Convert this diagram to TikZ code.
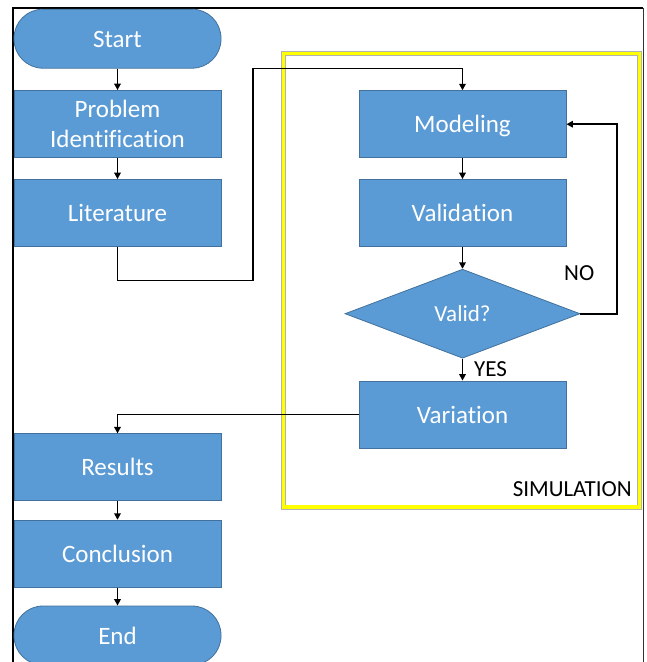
\documentclass[tikz,border=0pt]{standalone}
\usepackage{fontspec}
\setmainfont[Ligatures=CommonOff]{Carlito}
\usetikzlibrary{shapes.geometric,arrows.meta}
\definecolor{boxfill}{HTML}{5B9BD5}
\definecolor{boxline}{HTML}{41719C}
\definecolor{simyellow}{HTML}{FFFF00}
\tikzset{
  stepbox/.style={rectangle, fill=boxfill, draw=boxline, line width=0.8pt,
    minimum width=207pt, minimum height=67pt, inner sep=0pt, text=white,
    font=\fontsize{25}{30}\selectfont, align=center,
    text height=17pt, text depth=0pt},
  termbox/.style={stepbox, rounded corners=29pt, minimum height=59pt},
  decision/.style={diamond, fill=boxfill, draw=boxline, line width=0.8pt,
    minimum width=235pt, minimum height=89pt, inner sep=0pt, text=white,
    font=\fontsize{23}{27}\selectfont, text height=16pt, text depth=0pt},
  flow/.style={draw=black, line width=1.6pt, -{Triangle[length=6.5pt,width=6.5pt]}},
  tag/.style={font=\fontsize{23}{27}\selectfont, text=black, inner sep=0pt},
}
\begin{document}
\begin{tikzpicture}[x=1pt,y=-1pt]
\useasboundingbox (0,0) rectangle (646,662);
% outer frame
\draw[line width=1.8pt] (13,662) -- (13,8) -- (643,8);
\draw[line width=1pt, black!80] (643,8) -- (643,662);
% simulation region
\draw[line width=5pt, black!30] (283.5,53.5) rectangle (639.5,507);
\draw[line width=3.6pt, simyellow] (283.5,53.5) rectangle (639.5,507);

% main column
\node[termbox] (start) at (117.5,38.7) {Start};
\node[stepbox, text height=47pt] (prob) at (117.5,124) {Problem\\Identification};
\node[stepbox] (lit) at (117.5,213) {Literature};
\node[stepbox] (res) at (117.5,467.3) {Results};
\node[stepbox] (conc) at (117.5,553.7) {Conclusion};
\node[termbox] (end) at (117.5,635.5) {End};

% simulation column
\node[stepbox] (mod) at (462.5,124.2) {Modeling};
\node[stepbox] (vali) at (462.5,213) {Validation};
\node[decision] (ok) at (462.5,313.7) {Valid?};
\node[stepbox] (var) at (462.5,414.5) {Variation};

% labels
\node[tag, anchor=base west] (no) at (564,280.7) {NO};
\node[tag, anchor=base west] (yes) at (474,376.7) {YES};
\node[tag, anchor=base east] (sim) at (632,496) {SIMULATION};

% bend points
\coordinate (litlow) at (252.7,280.3);
\coordinate (lithigh) at (252.7,68.3);
\coordinate (loopup) at (617,124.2);

% connectors
\draw[flow] (start) -- (prob);
\draw[flow] (prob) -- (lit);
\draw[flow] (lit.south) |- (litlow) -- (lithigh) -| (mod.north);
\draw[flow] (mod) -- (vali);
\draw[flow] (vali) -- (ok);
\draw[flow] (ok.east) -| (loopup) -- (mod.east);
\draw[flow] (ok) -- (var);
\draw[flow] (var.west) -| (res.north);
\draw[flow] (res) -- (conc);
\draw[flow] (conc) -- (end);
\end{tikzpicture}
\end{document}
